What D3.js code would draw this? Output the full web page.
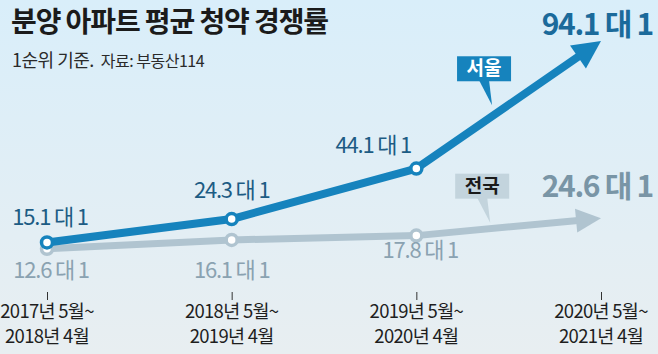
<!DOCTYPE html>
<html>
<head>
<meta charset="utf-8">
<script src="https://cdn.jsdelivr.net/npm/d3@7"></script>
<style>
  html, body { margin: 0; padding: 0; }
  body { width: 658px; height: 354px; overflow: hidden; }
  text { font-family: "Noto Sans CJK KR", "Noto Sans", sans-serif; }
</style>
</head>
<body>
<div id="chart"></div>
<script>
/* 분양 아파트 평균 청약 경쟁률 */

const periodStart = ["2017년 5월~", "2018년 5월~", "2019년 5월~", "2020년 5월~"];
const periodEnd = ["2018년 4월", "2019년 4월", "2020년 4월", "2021년 4월"];
const seoul = [15.1, 24.3, 44.1, 94.1];
const nation = [12.6, 16.1, 17.8, 24.6];

const width = 658,
    height = 354;

const blue = "#1683bd",
    gray = "#b0c4d0";

const svg = d3.select("#chart")
    .append("svg")
    .attr("width", width)
    .attr("height", height)
    .attr("viewBox", [0, 0, width, height]);

// background gradient
const grad = svg.append("defs").append("linearGradient")
    .attr("id", "bg")
    .attr("x1", 0).attr("y1", 0).attr("x2", 0).attr("y2", 1);
grad.append("stop").attr("offset", "0%").attr("stop-color", "#d9eefa");
grad.append("stop").attr("offset", "100%").attr("stop-color", "#e8eef1");

svg.append("rect")
    .attr("width", width)
    .attr("height", height)
    .attr("fill", "url(#bg)");

let x = d3.scalePoint()
    .domain(periodStart)
    .range([47, 601]);

let y = d3.scaleLinear()
    .domain([0, 100])
    .range([281, 26]);

// title
svg.append("text")
    .attr("x", 11)
    .attr("y", 32)
    .attr("font-size", 28)
    .attr("font-weight", "bold")
    .attr("letter-spacing", -1.1)
    .attr("fill", "#1b1b1b")
    .text("분양 아파트 평균 청약 경쟁률");

const sub = svg.append("text")
    .attr("x", 12)
    .attr("y", 67)
    .attr("fill", "#2a2a2a")
    .attr("letter-spacing", -0.5);
sub.append("tspan").attr("font-size", 18).text("1순위 기준.");
sub.append("tspan").attr("font-size", 16).attr("dx", 7).text("자료: 부동산114");

// x axis: ticks + two-line labels
const axis = svg.append("g")
    .attr("transform", "translate(0,292)")
    .call(d3.axisBottom(x).tickSize(8).tickSizeOuter(0).tickFormat(""));
axis.select(".domain").remove();
axis.selectAll(".tick line").attr("stroke", "#333");

const labels = svg.append("g")
    .selectAll("text")
    .data(periodStart)
    .join("text")
    .attr("x", d => x(d))
    .attr("text-anchor", "middle")
    .attr("font-size", 18.5)
    .attr("letter-spacing", -0.7)
    .attr("fill", "#1e1e1e");
labels.append("tspan").attr("x", d => x(d)).attr("y", 318).text(d => d);
labels.append("tspan").attr("x", d => x(d)).attr("y", 343).text((d, i) => periodEnd[i]);

// line with arrowhead
function drawSeries(values, color, headLen, headHalf, strokeW) {
    const pts = values.map((v, i) => [x(periodStart[i]), y(v)]);
    const n = pts.length;
    const a = pts[n - 2], b = pts[n - 1];
    const dx = b[0] - a[0], dy = b[1] - a[1];
    const len = Math.hypot(dx, dy);
    const ux = dx / len, uy = dy / len;
    const base = [b[0] - ux * headLen, b[1] - uy * headLen];
    const linePts = pts.slice(0, n - 1).concat([[base[0] + ux * 2, base[1] + uy * 2]]);

    svg.append("path")
        .datum(linePts)
        .attr("d", d3.line())
        .attr("fill", "none")
        .attr("stroke", color)
        .attr("stroke-width", strokeW)
        .attr("stroke-linejoin", "round");

    svg.append("path")
        .attr("d", d3.line()([
            b,
            [base[0] - uy * headHalf, base[1] + ux * headHalf],
            [base[0] + uy * headHalf, base[1] - ux * headHalf]
        ]) + "Z")
        .attr("fill", color);

    svg.append("g")
        .selectAll("circle")
        .data(pts.slice(0, n - 1))
        .join("circle")
        .attr("cx", d => d[0])
        .attr("cy", d => d[1])
        .attr("r", 5.5)
        .attr("fill", "#fff")
        .attr("stroke", color)
        .attr("stroke-width", 3.5);

    return pts;
}

const nationPts = drawSeries(nation, gray, 25, 12, 7);
const seoulPts = drawSeries(seoul, blue, 28, 14, 8);

// value labels
const seoulOff = [[3, -17], [0, -21], [-43, -16]];
const nationOff = [[4, 29], [0, 38], [4, 22]];

svg.append("g")
    .selectAll("text")
    .data(seoul.slice(0, 3))
    .join("text")
    .attr("x", (d, i) => seoulPts[i][0] + seoulOff[i][0])
    .attr("y", (d, i) => seoulPts[i][1] + seoulOff[i][1])
    .attr("text-anchor", "middle")
    .attr("font-size", 22)
    .attr("letter-spacing", -1.2)
    .attr("fill", "#1d5c84")
    .text(d => d + " 대 1");

svg.append("g")
    .selectAll("text")
    .data(nation.slice(0, 3))
    .join("text")
    .attr("x", (d, i) => nationPts[i][0] + nationOff[i][0])
    .attr("y", (d, i) => nationPts[i][1] + nationOff[i][1])
    .attr("text-anchor", "middle")
    .attr("font-size", 22)
    .attr("letter-spacing", -1.2)
    .attr("fill", "#8aa2b1")
    .text(d => d + " 대 1");

svg.append("text")
    .attr("x", seoulPts[3][0] + 52)
    .attr("y", seoulPts[3][1] - 6)
    .attr("text-anchor", "end")
    .attr("font-size", 30)
    .attr("font-weight", "bold")
    .attr("letter-spacing", -1.3)
    .attr("fill", "#1b6a9b")
    .text(seoul[3] + " 대 1");

svg.append("text")
    .attr("x", nationPts[3][0] + 52)
    .attr("y", nationPts[3][1] - 21)
    .attr("text-anchor", "end")
    .attr("font-size", 30)
    .attr("font-weight", "bold")
    .attr("letter-spacing", -1.3)
    .attr("fill", "#7995a6")
    .text(nation[3] + " 대 1");

// callouts
function callout(pts, frac, lift, boxFill, textFill, label) {
    const a = pts[2], b = pts[3];
    const tx = a[0] + (b[0] - a[0]) * frac;
    const ty = a[1] + (b[1] - a[1]) * frac - lift;
    const g = svg.append("g");
    const bw = 54, bh = 25, bx = tx - 35, by = ty - 24 - bh;
    g.append("rect")
        .attr("x", bx).attr("y", by)
        .attr("width", bw).attr("height", bh)
        .attr("fill", boxFill);
    g.append("path")
        .attr("d", d3.line()([[bx + 22, by + bh - 1], [bx + 32, by + bh - 1], [tx, ty]]) + "Z")
        .attr("fill", boxFill);
    g.append("text")
        .attr("x", bx + bw / 2)
        .attr("y", by + 19)
        .attr("text-anchor", "middle")
        .attr("font-size", 19)
        .attr("font-weight", "bold")
        .attr("fill", textFill)
        .text(label);
}

callout(seoulPts, 0.41, 11, blue, "#fff", "서울");
callout(nationPts, 0.40, 6, "#c3d4dd", "#1a1a1a", "전국");
</script>
</body>
</html>
